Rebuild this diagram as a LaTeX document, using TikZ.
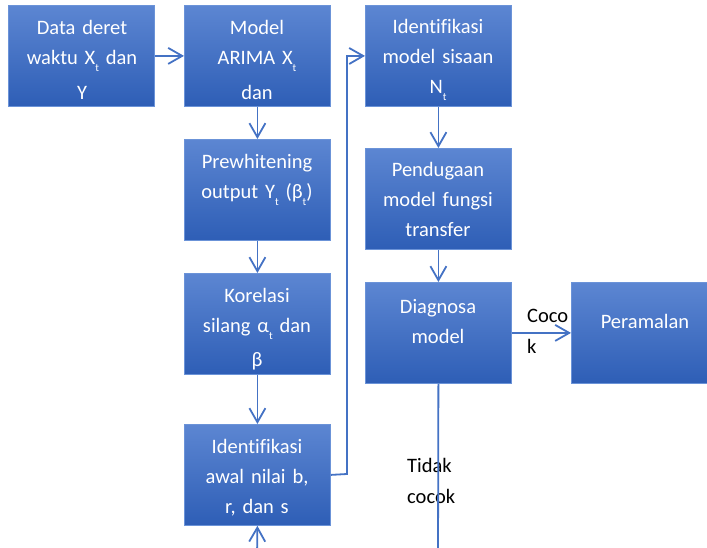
\documentclass[tikz,border=0pt]{standalone}
\usepackage{fontspec}
\setmainfont{Carlito}[Ligatures=NoCommon]
\usetikzlibrary{arrows.meta}
\definecolor{boxtop}{HTML}{5C86D2}
\definecolor{boxbot}{HTML}{2E5EB6}
\definecolor{boxline}{HTML}{6B93D8}
\definecolor{conn}{HTML}{4472C4}
\newcommand{\sbs}[1]{\raisebox{-0.35em}{\fontsize{11}{11}\selectfont #1}}
\begin{document}
\begin{tikzpicture}[x=1pt,y=-1pt,
  box/.style={rectangle, draw=boxline, line width=0.8pt, top color=boxtop, bottom color=boxbot, minimum width=146pt, minimum height=101pt, inner sep=0pt, anchor=north west},
  txt/.style={text=white, font=\fontsize{20.5}{30}\selectfont, text width=150pt, align=center, inner sep=0pt, anchor=base},
  lbl/.style={text=black, font=\fontsize{20.5}{31}\selectfont, text width=60pt, align=left, inner sep=0pt, anchor=base west},
  arr/.style={draw=conn, line width=1.8pt, -{Straight Barb[length=14pt, width=16pt, line width=1.8pt]}},
  ln/.style={draw=conn, line width=1.8pt}]
\useasboundingbox (0,0) rectangle (707,547);
% boxes
\node[box] (b1) at (8,5) {};
\node[box] (b2) at (184,5) {};
\node[box] (b3) at (184,139) {};
\node[box] (b4) at (184,273) {};
\node[box] (b5) at (184,424) {};
\node[box] (b6) at (365,5) {};
\node[box] (b7) at (365,148) {};
\node[box] (b8) at (365,282) {};
\node[box, minimum width=148pt] (b9) at (571,282) {};
% texts
\node[txt] (t1) at (82,34) {Data deret\\ waktu X\sbs{t} dan\\[5pt] Y};
\node[txt] (t2) at (257,34) {Model\\ ARIMA X\sbs{t}\\[5pt] dan};
\node[txt] (t3) at (257,168) {Prewhitening\\ output Y\sbs{t} (β\sbs{t})};
\node[txt] (t4) at (257,302) {Korelasi\\ silang α\sbs{t} dan\\[4pt] β};
\node[txt] (t5) at (257,453) {Identifikasi\\ awal nilai b,\\ r, dan s};
\node[txt] (t6) at (438,33) {Identifikasi\\ model sisaan\\ N\sbs{t}};
\node[txt] (t7) at (438,176) {Pendugaan\\ model fungsi\\ transfer};
\node[txt] (t8) at (438,313) {Diagnosa\\ model};
\node[txt] (t9) at (645,328) {Peramalan};
% labels
\node[lbl] (l1) at (527,322) {Coco\\k};
\node[lbl] (l2) at (407,472) {Tidak\\cocok};
% connectors
\coordinate (bot1) at (257,560);
\coordinate (bot2) at (438,560);
\coordinate (up1) at (347,474);
\coordinate (up2) at (347,56);
\draw[arr] (b1.east) -- (b2.west);
\draw[arr] (b2.south) -- (b3.north);
\draw[arr] (b3.south) -- (b4.north);
\draw[arr] (b4.south) -- (b5.north);
\draw[arr] (b5.east) -- (up1) -- (up2) -- (b6.west);
\draw[arr] (b6.south) -- (b7.north);
\draw[arr] (b7.south) -- (b8.north);
\draw[arr] (b8.east) -- (b9.west);
\draw[arr] (bot1) -- (b5.south);
\draw[ln] (b8.south) -- (bot2);
\end{tikzpicture}
\end{document}
